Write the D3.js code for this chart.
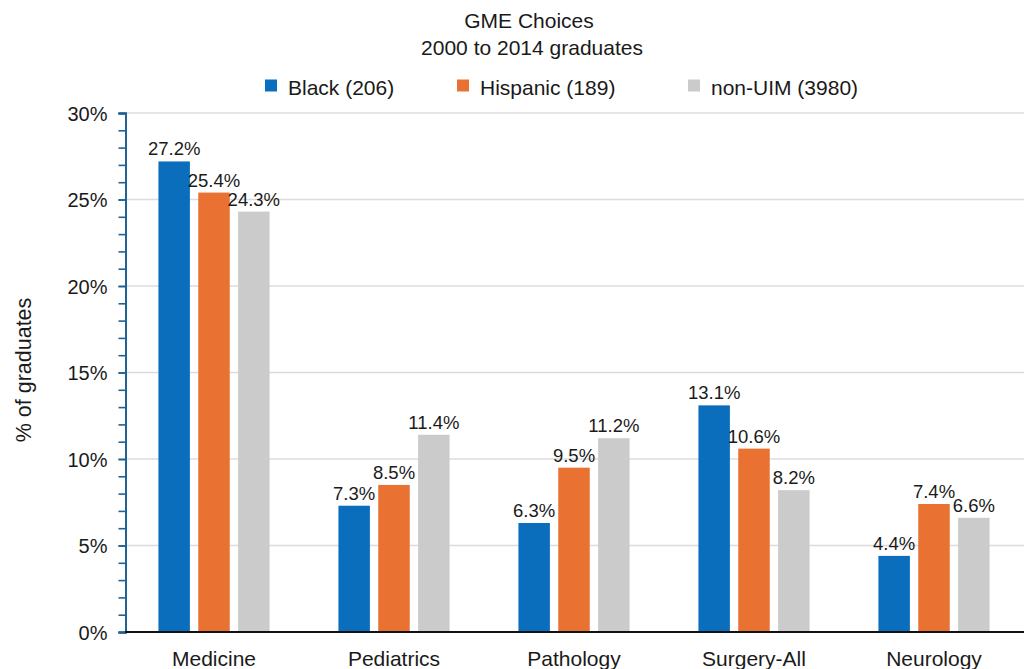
<!DOCTYPE html>
<html>
<head>
<meta charset="utf-8">
<script src="https://cdn.jsdelivr.net/npm/d3@7"></script>
<style>
  html, body { margin: 0; padding: 0; background: #fff; }
  svg { display: block; font-family: "Liberation Sans", Arial, Helvetica, sans-serif; }
</style>
</head>
<body>
<svg id="chart" width="1024" height="669"></svg>
<script>
// Specialty choices of graduates, 2000–2014
const categories = ["Medicine", "Pediatrics", "Pathology", "Surgery-All", "Neurology"];
const seriesNames = ["Black (206)", "Hispanic (189)", "non-UIM (3980)"];
const black    = [27.2, 7.3, 6.3, 13.1, 4.4];
const hispanic = [25.4, 8.5, 9.5, 10.6, 7.4];
const nonUIM   = [24.3, 11.4, 11.2, 8.2, 6.6];
const yTicks = [0, 5, 10, 15, 20, 25, 30];
const yMinorTicks = d3.range(0, 31, 1);
const titleLines = ["GME Choices", "2000 to 2014 graduates"];
const yLabel = "% of graduates";

const seriesValues = [black, hispanic, nonUIM];
const colors = ["#0a6ebd", "#e97132", "#cbcbcb"];
const ink = "#1a1a1a";

const svg = d3.select("#chart");
const plot = { left: 124, right: 1024, top: 113, bottom: 632 };

const x0 = d3.scaleBand().domain(categories).range([plot.left, plot.right]).padding(0);
const bw = x0.bandwidth();
const x1 = d3.scaleBand().domain(seriesNames)
  .range([bw * 0.168, bw * 0.832]).paddingInner(0.21).paddingOuter(0.105);
const y = d3.scaleLinear().domain([0, 30]).range([plot.bottom, plot.top]);

function label(parent, x, yy, txt, size, anchor, rotate) {
  return parent.append("text")
    .attr("transform", `translate(${x},${yy})` + (rotate ? ` rotate(${rotate})` : ""))
    .attr("text-anchor", anchor || "middle")
    .attr("font-size", size)
    .attr("fill", ink)
    .text(txt);
}

// gridlines
svg.append("g").selectAll("line")
  .data(yTicks.filter(d => d > 0))
  .join("line")
  .attr("x1", plot.left + 1).attr("x2", plot.right)
  .attr("y1", d => y(d)).attr("y2", d => y(d))
  .attr("stroke", "#dcdcdc").attr("stroke-width", 1.6);

// bars
const groups = svg.append("g").selectAll("g")
  .data(categories)
  .join("g")
  .attr("transform", d => `translate(${x0(d)},0)`);

groups.selectAll("rect")
  .data((c, i) => seriesNames.map((s, k) => ({ s, v: seriesValues[k][i], k })))
  .join("rect")
  .attr("x", d => x1(d.s))
  .attr("width", x1.bandwidth())
  .attr("y", d => y(d.v))
  .attr("height", d => y(0) - y(d.v))
  .attr("fill", d => colors[d.k]);

// value labels above each bar
groups.each(function (c, i) {
  const g = d3.select(this);
  seriesNames.forEach((s, k) => {
    const v = seriesValues[k][i];
    label(g, x1(s) + x1.bandwidth() / 2, y(v) - 6, v.toFixed(1) + "%", 18.5);
  });
});

// y axis: minor ticks every 1%, major ticks with labels every 5%
const axisColor = "#1f6394";
const yMinor = svg.append("g").attr("transform", `translate(${plot.left + 1.5},0)`)
  .call(d3.axisLeft(y).tickValues(yMinorTicks).tickSize(7).tickFormat(""));
const yAxis = svg.append("g").attr("transform", `translate(${plot.left + 1.5},0)`)
  .call(d3.axisLeft(y).tickValues(yTicks).tickSize(7).tickPadding(11).tickFormat(d => d + "%"));
[yMinor, yAxis].forEach(g => {
  g.select(".domain").attr("stroke", axisColor).attr("stroke-width", 2);
  g.selectAll(".tick line").attr("stroke", axisColor).attr("stroke-width", 1.6);
});
yAxis.selectAll(".tick text")
  .attr("font-family", null)
  .attr("font-size", 20)
  .attr("fill", ink)
  .attr("dy", "0.36em");

// x axis baseline
svg.append("line")
  .attr("x1", plot.left + 1).attr("x2", plot.right)
  .attr("y1", y(0)).attr("y2", y(0))
  .attr("stroke", "#111").attr("stroke-width", 1.8);

// category labels
categories.forEach(c => label(svg, x0(c) + bw / 2, 665.5, c, 21));

// y axis title
label(svg, 31, 370, yLabel, 21.5, "middle", -90);

// chart title
label(svg, 529, 28, titleLines[0], 21);
label(svg, 532, 55, titleLines[1], 21);

// legend
const legendX = [265, 457, 688];
seriesNames.forEach((s, k) => {
  svg.append("rect")
    .attr("x", legendX[k]).attr("y", 79.5)
    .attr("width", 12).attr("height", 12)
    .attr("fill", colors[k]);
  label(svg, legendX[k] + 23, 94.5, s, 21, "start");
});
</script>
</body>
</html>
